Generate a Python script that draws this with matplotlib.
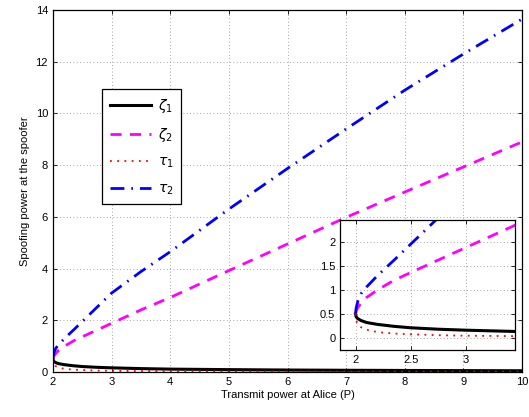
import numpy as np
import matplotlib.pyplot as plt

plt.rcParams['font.family'] = ['Liberation Sans', 'DejaVu Sans']
plt.rcParams['mathtext.fontset'] = 'dejavusans'

# transmit power at Alice
P = [2, 2.005, 2.02, 2.05, 2.1, 2.2, 2.35, 2.5, 2.75, 3, 3.5, 4, 5, 6, 7, 8, 9, 10]
# spoofing power curves
zeta1 = [0.5, 0.44, 0.40, 0.36, 0.32, 0.28, 0.24, 0.21, 0.18, 0.16, 0.13, 0.11,
         0.09, 0.075, 0.065, 0.058, 0.052, 0.047]
zeta2 = [0.5, 0.56, 0.63, 0.72, 0.84, 1.0, 1.2, 1.36, 1.62, 1.88, 2.4, 2.88,
         3.92, 4.95, 5.98, 6.96, 7.93, 8.9]
tau1 = [0.5, 0.36, 0.29, 0.22, 0.17, 0.12, 0.09, 0.075, 0.055, 0.045, 0.035, 0.028,
        0.02, 0.016, 0.013, 0.011, 0.01, 0.009]
tau2 = [0.5, 0.62, 0.76, 0.92, 1.06, 1.3, 1.62, 1.95, 2.5, 3.05, 3.88, 4.65,
        6.3, 7.87, 9.4, 10.9, 12.3, 13.65]


def draw(ax):
    ax.plot(P, zeta1, color='black', lw=2.2, label=r'$\zeta_1$')
    ax.plot(P, zeta2, color='magenta', lw=2, ls=(0, (4, 3)), label=r'$\zeta_2$')
    ax.plot(P, tau1, color='red', lw=1.3, ls=(0, (1, 3)), label=r'$\tau_1$')
    ax.plot(P, tau2, color='blue', lw=2, ls=(0, (5, 2.5, 0.6, 2.5)), label=r'$\tau_2$')
    ax.grid(True, ls=(0, (1, 3)), color='#888888', lw=0.6)
    ax.tick_params(direction='in', top=True, right=True, labelsize=8, length=3, width=0.6)
    for s in ax.spines.values():
        s.set_linewidth(0.9)


fig = plt.figure(figsize=(5.29, 4.17), dpi=100)
ax = fig.add_axes([0.100, 0.108, 0.887, 0.868])
draw(ax)
ax.set_xlim(2, 10)
ax.set_ylim(0, 14)
ax.set_xticks(range(2, 11))
ax.set_yticks(range(0, 15, 2))
ax.set_xlabel('Transmit power at Alice (P)', fontsize=8, labelpad=2)
ax.set_ylabel('Spoofing power at the spoofer', fontsize=8, labelpad=4)

leg = ax.legend(loc='upper left', bbox_to_anchor=(102 / 529, 1 - 89 / 417),
                bbox_transform=fig.transFigure, fontsize=10, handlelength=3.0,
                handletextpad=0.5, labelspacing=0.8, fancybox=False, framealpha=1,
                borderpad=0.55, borderaxespad=0)
leg.get_frame().set_edgecolor('black')
leg.get_frame().set_linewidth(0.9)

axin = fig.add_axes([0.643, 0.161, 0.331, 0.312])
draw(axin)
axin.set_xlim(1.86, 3.45)
axin.set_ylim(-0.25, 2.46)
axin.set_xticks([2, 2.5, 3])
axin.set_xticklabels(['2', '2.5', '3'])
axin.set_yticks([0, 0.5, 1, 1.5, 2])
axin.set_yticklabels(['0', '0.5', '1', '1.5', '2'])

fig.savefig('out.png', dpi=100)
